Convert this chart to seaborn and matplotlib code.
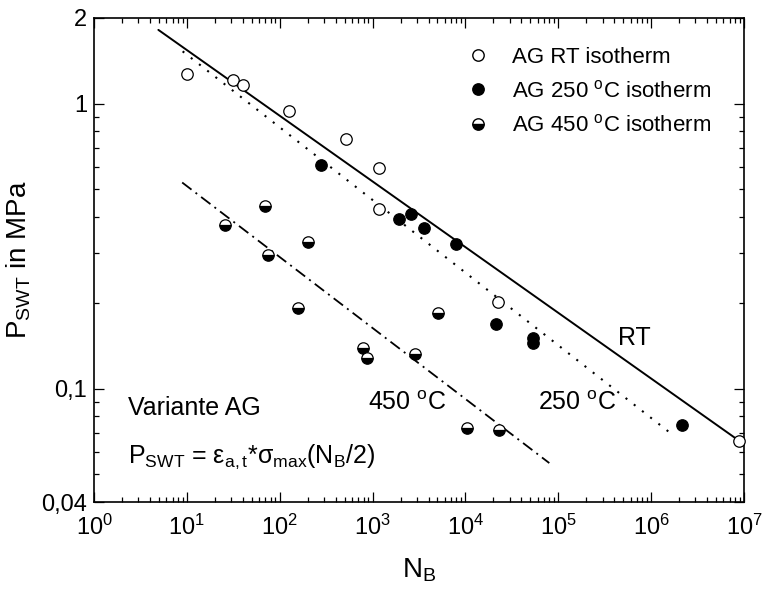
"""
P_SWT over N_B, Variante AG - Wöhler-type log-log plot with three isotherms.
"""

import matplotlib
matplotlib.use('Agg')
import matplotlib.pyplot as plt
import matplotlib.ticker as mticker
from matplotlib.lines import Line2D
import pandas as pd
import seaborn as sns

# --- data ---
rt_n = [10, 31, 40, 125, 520, 1170, 1170, 22600, 8.9e6]
rt_p = [1.27, 1.21, 1.16, 0.945, 0.75, 0.597, 0.426, 0.202, 0.0654]

t250_n = [276, 1930, 2590, 3600, 7850, 21300, 53800, 53800, 2.13e6]
t250_p = [0.607, 0.394, 0.410, 0.365, 0.321, 0.169, 0.150, 0.145, 0.0748]

t450_n = [25.7, 69, 75, 200, 159, 795, 864, 2870, 5100, 10300, 23200]
t450_p = [0.375, 0.438, 0.294, 0.327, 0.192, 0.139, 0.128, 0.1325, 0.185, 0.0728, 0.0713]

# fitted lines (end points)
rt_fit_n = [4.93, 1e7]
rt_fit_p = [1.816, 0.0638]
t250_fit_n = [9.0, 1.69e6]
t250_fit_p = [1.527, 0.069]
t450_fit_n = [8.9, 8.0e4]
t450_fit_p = [0.529, 0.0548]

x_ticks = [1, 10, 100, 1e3, 1e4, 1e5, 1e6, 1e7]
y_ticks = [0.04, 0.1, 1, 2]
y_ticklabels = ['0,04', '0,1', '1', '2']

sns.set_style('ticks', {'axes.edgecolor': 'black', 'text.color': 'black',
                        'axes.labelcolor': 'black', 'xtick.color': 'black',
                        'ytick.color': 'black'})
plt.rcParams['font.family'] = ['Liberation Sans', 'DejaVu Sans']
plt.rcParams['mathtext.fontset'] = 'custom'
plt.rcParams['mathtext.rm'] = 'Liberation Sans'
plt.rcParams['mathtext.it'] = 'Liberation Sans:italic'
plt.rcParams['mathtext.bf'] = 'Liberation Sans:bold'
plt.rcParams['mathtext.sf'] = 'Liberation Sans'

fig, ax = plt.subplots(figsize=(7.62, 5.98), dpi=100)
fig.subplots_adjust(left=0.1234, right=0.9764, bottom=0.1605, top=0.970)
ax.set_xscale('log')
ax.set_yscale('log')

# fit lines
sns.lineplot(x=rt_fit_n, y=rt_fit_p, ax=ax, color='black', lw=1.4, sort=False)
sns.lineplot(x=t250_fit_n, y=t250_fit_p, ax=ax, color='black', lw=1.5,
             linestyle=(0, (1, 4)), sort=False)
sns.lineplot(x=t450_fit_n, y=t450_fit_p, ax=ax, color='black', lw=1.3,
             linestyle=(0, (6.5, 2.8, 1.1, 2.8)), sort=False)

# measured points
df_rt = pd.DataFrame({'N': rt_n, 'P': rt_p})
df_250 = pd.DataFrame({'N': t250_n, 'P': t250_p})
sns.scatterplot(data=df_rt, x='N', y='P', ax=ax, marker='o', s=68,
                facecolor='white', edgecolor='black', linewidth=0.9, zorder=3, clip_on=False)
sns.scatterplot(data=df_250, x='N', y='P', ax=ax, marker='o', s=68,
                color='black', edgecolor='black', linewidth=0.9, zorder=3)
ax.plot(t450_n, t450_p, ls='none', marker='o', ms=8.2, fillstyle='bottom',
        markerfacecolor='black', markerfacecoloralt='white',
        markeredgecolor='black', markeredgewidth=0.9, zorder=3)

ax.set_xlim(1, 1e7)
ax.set_ylim(0.04, 2)

ax.xaxis.set_major_locator(mticker.FixedLocator(x_ticks))
ax.xaxis.set_minor_locator(mticker.LogLocator(base=10, subs=range(2, 10), numticks=100))
ax.xaxis.set_major_formatter(mticker.LogFormatterMathtext())
ax.xaxis.set_minor_formatter(mticker.NullFormatter())
ax.yaxis.set_major_locator(mticker.FixedLocator(y_ticks))
ax.yaxis.set_major_formatter(mticker.FixedFormatter(y_ticklabels))
ax.yaxis.set_minor_locator(mticker.LogLocator(base=10, subs=range(2, 10), numticks=100))
ax.yaxis.set_minor_formatter(mticker.NullFormatter())

ax.tick_params(which='both', direction='in', top=True, right=True, width=0.9, labelsize=17)
ax.tick_params(which='major', length=7)
ax.tick_params(which='minor', length=3.5)
ax.tick_params(axis='x', which='major', pad=9)
ax.tick_params(axis='y', which='major', pad=5)
for sp in ax.spines.values():
    sp.set_linewidth(1.2)

ax.set_xlabel(r'N$_{\mathrm{B}}$', fontsize=20, labelpad=12)
ax.set_ylabel(r'P$_{\mathrm{SWT}}$ in MPa', fontsize=20, labelpad=6)

ax.text(0.833, 0.435, 'RT', fontsize=18, ha='center', va='center', transform=fig.transFigure)
ax.text(0.757, 0.326, r'250 $^{\mathrm{o}}$C', fontsize=18, ha='center', va='center', transform=fig.transFigure)
ax.text(0.534, 0.326, r'450 $^{\mathrm{o}}$C', fontsize=18, ha='center', va='center', transform=fig.transFigure)
ax.text(0.168, 0.318, 'Variante AG', fontsize=18, ha='left', va='center', transform=fig.transFigure)
ax.text(0.168, 0.236, r'P$_{\mathrm{SWT}}$ = ε$_{\mathrm{a,t}}$*σ$_{\mathrm{max}}$(N$_{\mathrm{B}}$/2)',
        fontsize=18, ha='left', va='center', transform=fig.transFigure)

handles = [
    Line2D([], [], ls='none', marker='o', ms=8.2, markerfacecolor='white', markeredgecolor='black'),
    Line2D([], [], ls='none', marker='o', ms=8.2, markerfacecolor='black', markeredgecolor='black'),
    Line2D([], [], ls='none', marker='o', ms=8.2, fillstyle='bottom', markerfacecolor='black',
           markerfacecoloralt='white', markeredgecolor='black'),
]
labels = ['AG RT isotherm', r'AG 250 $^{\mathrm{o}}$C isotherm', r'AG 450 $^{\mathrm{o}}$C isotherm']
ax.legend(handles, labels, loc='upper left', bbox_to_anchor=(458 / 762, 1 - 38 / 598),
          bbox_transform=fig.transFigure, frameon=False, fontsize=16,
          handlelength=1.0, handletextpad=1.05, labelspacing=0.55, borderaxespad=0)

plt.savefig('out.png', dpi=100)
